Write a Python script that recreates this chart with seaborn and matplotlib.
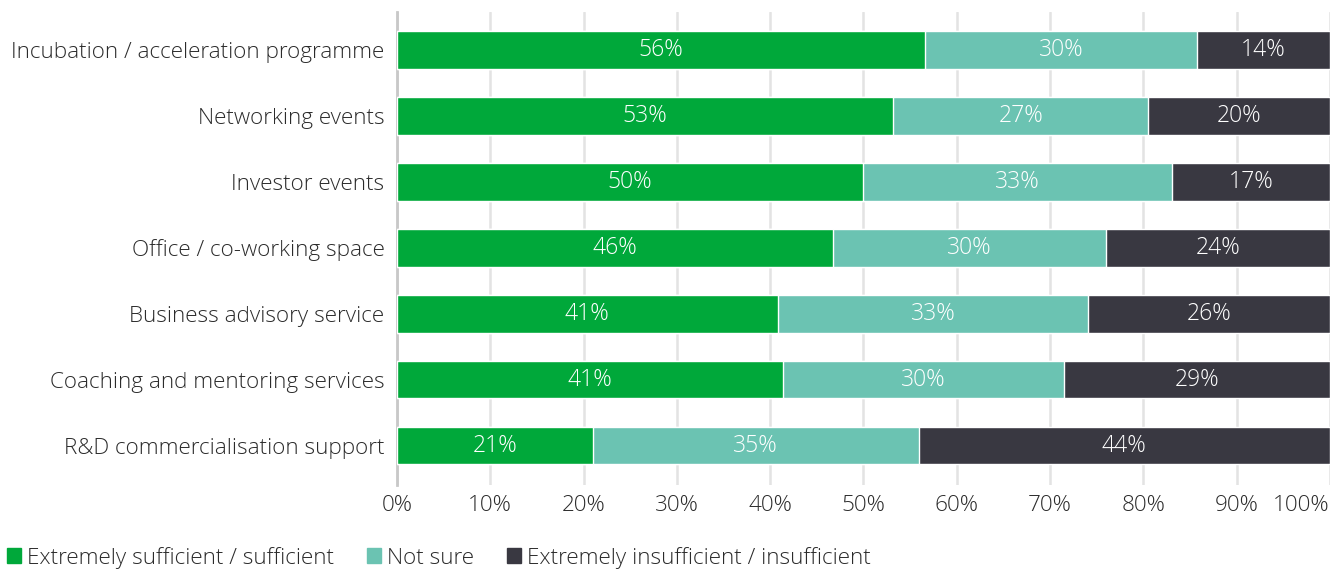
import matplotlib
matplotlib.use("Agg")
import matplotlib.pyplot as plt
import seaborn as sns
import pandas as pd
import numpy as np
from matplotlib.patches import Patch

categories = ["Incubation / acceleration programme", "Networking events", "Investor events",
              "Office / co-working space", "Business advisory service",
              "Coaching and mentoring services", "R&D commercialisation support"]
sufficient = [56.6, 53.2, 49.9, 46.7, 40.8, 41.4, 21.0]
not_sure = [29.1, 27.3, 33.2, 29.3, 33.3, 30.1, 34.9]
insufficient = [14.3, 19.5, 16.9, 24.0, 25.9, 28.5, 44.1]
lbl_suff = ["56%", "53%", "50%", "46%", "41%", "41%", "21%"]
lbl_ns = ["30%", "27%", "33%", "30%", "33%", "30%", "35%"]
lbl_ins = ["14%", "20%", "17%", "24%", "26%", "29%", "44%"]
series = ["Extremely sufficient / sufficient", "Not sure", "Extremely insufficient / insufficient"]
colors = ["#00a83a", "#6bc3b2", "#393841"]

sns.set_style("white")
plt.rcParams['font.family'] = ['Open Sans', 'DejaVu Sans']
plt.rcParams['font.weight'] = 'light'

df = pd.DataFrame({"cat": categories, "s": sufficient, "n": not_sure, "i": insufficient})
df["sn"] = df["s"] + df["n"]
df["tot"] = df["sn"] + df["i"]

fig = plt.figure(figsize=(13.38, 5.72), dpi=100)
ax = fig.add_axes([0.2967, 0.152, 0.6973, 0.827])

# stacked via layered cumulative bars
sns.barplot(data=df, x="tot", y="cat", color=colors[2], width=0.57, orient="h", ax=ax, saturation=1, zorder=2)
sns.barplot(data=df, x="sn", y="cat", color=colors[1], width=0.57, orient="h", ax=ax, saturation=1, zorder=3)
sns.barplot(data=df, x="s", y="cat", color=colors[0], width=0.57, orient="h", ax=ax, saturation=1, zorder=4)

for i in range(len(categories)):
    s, n, t = df["s"][i], df["n"][i], df["i"][i]
    for xc, lab in [(s / 2, lbl_suff[i]), (s + n / 2, lbl_ns[i]), (s + n + t / 2, lbl_ins[i])]:
        ax.text(xc, i, lab, ha="center", va="center", color="white", fontsize=16.5, zorder=5)

ax.set_xlim(0, 100)
ax.set_ylim(6.6, -0.58)
ax.set_xticks(np.arange(0, 101, 10))
ax.set_xticklabels([f"{v}%" for v in range(0, 101, 10)])
ax.get_xticklabels()[-1].set_horizontalalignment("right")
ax.xaxis.grid(True, color="#e3e3e3", linewidth=1.8, zorder=0)
ax.set_axisbelow(True)
ax.set_xlabel("")
ax.set_ylabel("")
for sp in ["top", "right", "bottom"]:
    ax.spines[sp].set_visible(False)
ax.spines["left"].set_color("#c8c8c8")
ax.spines["left"].set_linewidth(2)
ax.tick_params(axis="both", length=0, labelsize=16.2, labelcolor="#2b2b2b")
ax.tick_params(axis="y", pad=9)
ax.tick_params(axis="x", pad=7)

handles = [Patch(color=c, label=l) for c, l in zip(colors, series)]
fig.legend(handles=handles, loc="center left", bbox_to_anchor=(0.0, 0.025), ncol=3, frameon=False,
           borderaxespad=0, borderpad=0.3,
           fontsize=16.2, handlelength=0.65, handleheight=0.65, handletextpad=0.25, columnspacing=1.45,
           labelcolor="#2b2b2b")

fig.savefig("out.png", dpi=100)
